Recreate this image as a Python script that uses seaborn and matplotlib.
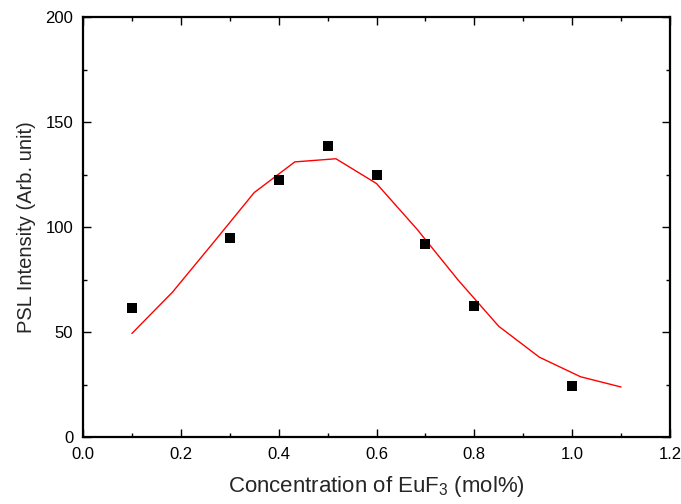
import matplotlib
matplotlib.use("Agg")
import matplotlib.pyplot as plt
import seaborn as sns
import pandas as pd
from matplotlib.ticker import MultipleLocator

# Data
conc = [0.1, 0.3, 0.4, 0.5, 0.6, 0.7, 0.8, 1.0]
psl = [61.5, 94.9, 122.6, 138.5, 124.8, 91.7, 62.2, 24.2]
fit_x = [0.1, 0.183, 0.267, 0.35, 0.433, 0.517, 0.6, 0.683, 0.767, 0.85, 0.933, 1.017, 1.1]
fit_y = [49.3, 69.0, 92.7, 116.4, 131.0, 132.5, 120.7, 98.9, 74.7, 52.7, 38.0, 28.7, 23.8]
xticks = [0.0, 0.2, 0.4, 0.6, 0.8, 1.0, 1.2]
yticks = [0, 50, 100, 150, 200]

sns.set_style("ticks")
plt.rcParams['font.family'] = ['Liberation Sans', 'DejaVu Sans']
plt.rcParams['mathtext.fontset'] = 'custom'
plt.rcParams['mathtext.rm'] = 'Liberation Sans'
plt.rcParams['mathtext.it'] = 'Liberation Sans:italic'

fig = plt.figure(figsize=(6.81, 5.04), dpi=100)
ax = fig.add_axes([83/681, 1 - 437/504, 587/681, 420/504])

df_pts = pd.DataFrame({"x": conc, "y": psl})
df_fit = pd.DataFrame({"x": fit_x, "y": fit_y})

sns.lineplot(data=df_fit, x="x", y="y", ax=ax, color="#ff0000", linewidth=1.0,
             sort=False, estimator=None, zorder=2)
sns.scatterplot(data=df_pts, x="x", y="y", ax=ax, marker="s", s=52, color="black",
                edgecolor="black", linewidth=0, zorder=3)

ax.set_xlim(0, 1.2)
ax.set_ylim(0, 200)
ax.set_xticks(xticks)
ax.set_xticklabels([f"{v:.1f}" for v in xticks])
ax.set_yticks(yticks)
ax.set_yticklabels([str(v) for v in yticks])
ax.xaxis.set_minor_locator(MultipleLocator(0.1))
ax.yaxis.set_minor_locator(MultipleLocator(25))

ax.tick_params(which='both', direction='in', top=True, right=True, width=1.0, color='black')
ax.tick_params(which='major', length=6, labelsize=12, pad=7, labelcolor='black')
ax.tick_params(which='minor', length=3)

for sp in ax.spines.values():
    sp.set_linewidth(1.6)
    sp.set_color('black')

ax.set_xlabel("Concentration of EuF$_3$ (mol%)", fontsize=16, labelpad=9)
ax.set_ylabel("PSL Intensity (Arb. unit)", fontsize=14.5, labelpad=7)

fig.savefig("out.png", dpi=100)
